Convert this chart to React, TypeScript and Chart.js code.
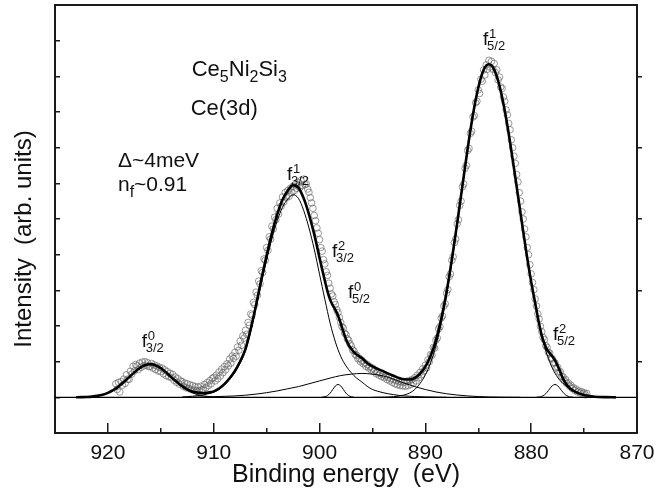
import React, { useEffect, useRef } from 'react';
import { Chart, registerables } from 'chart.js';

Chart.register(...registerables);

const FONT = '"Liberation Sans", Arial, Helvetica, sans-serif';

// ---------- axis ----------
const energyMin = 870;
const energyMax = 925;
const intensityMin = -1;
const intensityMax = 11;
const xMajorTicks = [870, 880, 890, 900, 910, 920];
const xMinorTicks = [875, 885, 895, 905, 915];

// ---------- experimental points (open circles) ----------
const expEnergyStart = 919.25;
const expEnergyStep = 0.125;
const expIntensity = [
  0.38, 0.22,
  0.42, 0.15, 0.44, 0.34, 0.51, 0.39, 0.63, 0.51, // 919
  0.5, 0.73, 0.65, 0.87, 0.74, 0.92, 0.88, 0.78, // 918
  0.96, 0.84, 0.99, 0.88, 1.0, 0.9, 0.97, 0.86, // 917
  0.87, 0.95, 0.82, 0.91, 0.78, 0.88, 0.74, 0.84, // 916
  0.72, 0.82, 0.66, 0.77, 0.61, 0.72, 0.58, 0.67, // 915
  0.55, 0.64, 0.48, 0.57, 0.42, 0.52, 0.37, 0.46, // 914
  0.44, 0.31, 0.4, 0.27, 0.38, 0.25, 0.35, 0.22, // 913
  0.33, 0.2, 0.3, 0.18, 0.29, 0.19, 0.31, 0.21, // 912
  0.22, 0.36, 0.27, 0.41, 0.33, 0.47, 0.38, 0.53, // 911
  0.56, 0.46, 0.62, 0.52, 0.71, 0.6, 0.79, 0.69, // 910
  0.86, 0.77, 0.94, 0.88, 1.07, 0.96, 1.16, 1.09, // 909
  1.26, 1.15, 1.41, 1.32, 1.58, 1.46, 1.72, 1.66, // 908
  1.88, 1.77, 2.1, 2.02, 2.34, 2.3, 2.66, 2.6, // 907
  2.95, 2.86, 3.26, 3.18, 3.55, 3.5, 3.88, 3.84, // 906
  4.2, 4.12, 4.5, 4.44, 4.8, 4.72, 5.05, 4.98, // 905
  5.3, 5.14, 5.45, 5.36, 5.62, 5.48, 5.74, 5.6, // 904
  5.8, 5.64, 5.86, 5.74, 5.92, 5.8, 5.98, 5.86, // 903
  6.02, 5.88, 6.08, 5.94, 6.12, 5.96, 5.98, 5.84, // 902
  5.75, 5.6, 5.45, 5.3, 5.1, 4.95, 4.75, 4.6, // 901
  4.42, 4.2, 4.1, 3.86, 3.74, 3.52, 3.42, 3.2, // 900
  3.06, 2.9, 2.84, 2.68, 2.6, 2.46, 2.38, 2.24, // 899
  2.1, 1.98, 1.94, 1.8, 1.76, 1.64, 1.6, 1.5, // 898
  1.44, 1.33, 1.3, 1.2, 1.18, 1.08, 1.1, 1.0, // 897
  1.04, 0.94, 0.97, 0.87, 0.92, 0.82, 0.86, 0.77, // 896
  0.82, 0.72, 0.76, 0.66, 0.71, 0.62, 0.67, 0.58, // 895
  0.64, 0.55, 0.6, 0.5, 0.56, 0.46, 0.52, 0.42, // 894
  0.5, 0.38, 0.47, 0.35, 0.44, 0.33, 0.43, 0.32, // 893
  0.42, 0.31, 0.45, 0.33, 0.47, 0.36, 0.5, 0.4, // 892
  0.55, 0.46, 0.62, 0.55, 0.7, 0.63, 0.8, 0.74, // 891
  0.9, 0.83, 1.05, 1.0, 1.2, 1.18, 1.4, 1.38, // 890
  1.6, 1.66, 1.92, 1.98, 2.22, 2.28, 2.56, 2.62, // 889
  2.92, 3.02, 3.38, 3.46, 3.84, 3.94, 4.34, 4.44, // 888
  4.86, 4.98, 5.38, 5.5, 5.9, 5.98, 6.42, 6.5, // 887
  6.92, 6.98, 7.4, 7.46, 7.86, 7.9, 8.26, 8.3, // 886
  8.62, 8.52, 8.92, 8.86, 9.18, 9.04, 9.32, 9.2, // 885
  9.45, 9.26, 9.42, 9.2, 9.36, 9.1, 9.18, 8.9, // 884
  8.98, 8.7, 8.66, 8.42, 8.3, 8.06, 7.92, 7.68, // 883
  7.5, 7.22, 7.0, 6.76, 6.56, 6.25, 6.04, 5.74, // 882
  5.5, 5.2, 5.0, 4.72, 4.5, 4.2, 4.0, 3.72, // 881
  3.46, 3.22, 3.02, 2.76, 2.56, 2.34, 2.2, 1.99, // 880
  1.84, 1.68, 1.62, 1.45, 1.4, 1.26, 1.24, 1.1, // 879
  1.08, 0.96, 0.97, 0.83, 0.84, 0.71, 0.72, 0.58, // 878
  0.58, 0.47, 0.5, 0.39, 0.41, 0.31, 0.34, 0.25, // 877
  0.27, 0.19, 0.23, 0.15, 0.18, 0.12, 0.16, 0.1, // 876
  0.13, 0.07, 0.11,
];

// ---------- total fit (thick line) ----------
const fitEnergy = [
  923, 922.5, 922, 921.5, 921, 920.5, 920, 919.5, 919, 918.5, 918, 917.5, 917, 916.5, 916, 915.5,
  915, 914.5, 914, 913.5, 913, 912.5, 912, 911.5, 911, 910.5, 910, 909.5, 909, 908.5, 908, 907.5,
  907, 906.5, 906, 905.5, 905, 904.5, 904, 903.5, 903, 902.5, 902, 901.5, 901, 900.5, 900, 899.75,
  899.5, 899.25, 899, 898.75, 898.5, 898.25, 898, 897.75, 897.5, 897.25, 897, 896.75, 896.5, 896,
  895.5, 895, 894.5, 894, 893.5, 893, 892.5, 892, 891.5, 891, 890.5, 890, 889.5, 889, 888.5, 888,
  887.5, 887, 886.5, 886, 885.5, 885, 884.5, 884, 883.5, 883, 882.5, 882, 881.5, 881, 880.5, 880,
  879.75, 879.5, 879.25, 879, 878.75, 878.5, 878.25, 878, 877.75, 877.5, 877.25, 877, 876.75, 876.5,
  876.25, 876, 875.5, 875, 874.5, 874, 873, 872,
];
const fitIntensity = [
  0.002, 0.005, 0.01, 0.021, 0.041, 0.074, 0.126, 0.2, 0.3, 0.43, 0.56, 0.7, 0.82, 0.9, 0.93, 0.9,
  0.82, 0.7, 0.56, 0.435, 0.313, 0.224, 0.161, 0.131, 0.121, 0.136, 0.168, 0.248, 0.37, 0.534, 0.74, 1.01,
  1.36, 1.925, 2.59, 3.31, 3.98, 4.605, 5.13, 5.54, 5.8, 5.95, 5.88, 5.58, 5.13, 4.57, 3.91, 3.58,
  3.27, 2.97, 2.74, 2.58, 2.45, 2.29, 2.08, 1.84, 1.63, 1.47, 1.36, 1.27, 1.2, 1.1,
  0.965, 0.87, 0.797, 0.734, 0.664, 0.603, 0.545, 0.505, 0.5, 0.542, 0.667, 0.862, 1.164, 1.606, 2.2, 2.95,
  3.86, 4.87, 5.93, 6.98, 7.93, 8.68, 9.18, 9.34, 9.19, 8.74, 8.04, 7.16, 6.17, 5.15, 4.15, 3.24,
  2.84, 2.45, 2.06, 1.73, 1.51, 1.34, 1.24, 1.145, 1.04, 0.885, 0.71, 0.53, 0.4, 0.3,
  0.23, 0.18, 0.11, 0.065, 0.035, 0.018, 0.005, 0,
];

// ---------- fit components (thin lines) ----------
const f32_0Energy = [923, 922.5, 922, 921.5, 921, 920.5, 920, 919.5, 919, 918.5, 918, 917.5, 917, 916.5, 916, 915.5, 915, 914.5, 914, 913.5, 913, 912.5, 912, 911.5, 911, 910.5, 910, 909.5, 909];
const f32_0Intensity = [0.002, 0.005, 0.01, 0.021, 0.041, 0.074, 0.126, 0.2, 0.3, 0.43, 0.56, 0.7, 0.82, 0.9, 0.93, 0.9, 0.82, 0.7, 0.56, 0.43, 0.3, 0.2, 0.126, 0.074, 0.041, 0.021, 0.01, 0.005, 0.002];

const f32_1Energy = [913, 912.5, 912, 911.5, 911, 910.5, 910, 909.5, 909, 908.5, 908, 907.5, 907, 906.5, 906, 905.5, 905, 904.5, 904, 903.5, 903, 902.5, 902, 901.5, 901, 900.5, 900, 899.5, 899, 898.5, 898, 897.5, 897, 896.5, 896, 895.5, 895, 894.5, 894, 893.5, 893, 892.5, 892, 891.5, 891, 890, 889, 888];
const f32_1Intensity = [0.01, 0.02, 0.03, 0.05, 0.07, 0.1, 0.14, 0.22, 0.34, 0.5, 0.7, 0.96, 1.3, 1.85, 2.5, 3.2, 3.85, 4.45, 4.95, 5.33, 5.56, 5.68, 5.58, 5.24, 4.75, 4.15, 3.45, 2.75, 2.08, 1.55, 1.15, 0.88, 0.69, 0.54, 0.43, 0.31, 0.22, 0.17, 0.13, 0.1, 0.075, 0.055, 0.04, 0.03, 0.022, 0.012, 0.006, 0.002];

const f32_2Energy = [899.75, 899.5, 899.25, 899, 898.75, 898.5, 898.25, 898, 897.75, 897.5, 897.25, 897, 896.75];
const f32_2Intensity = [0.004, 0.016, 0.049, 0.117, 0.22, 0.32, 0.36, 0.32, 0.22, 0.117, 0.049, 0.016, 0.004];

const f52_0Energy = [912, 911, 910, 909, 908, 907, 906, 905, 904, 903, 902, 901, 900, 899, 898, 897, 896, 895, 894, 893, 892, 891, 890, 889, 888, 887, 886, 885, 884, 883, 882, 881];
const f52_0Intensity = [0.005, 0.01, 0.018, 0.028, 0.04, 0.06, 0.09, 0.13, 0.18, 0.24, 0.3, 0.38, 0.46, 0.54, 0.61, 0.65, 0.67, 0.65, 0.6, 0.51, 0.4, 0.3, 0.22, 0.15, 0.1, 0.065, 0.04, 0.022, 0.011, 0.005, 0.002, 0];

const f52_1Energy = [895, 894, 893.5, 893, 892.5, 892, 891.5, 891, 890.5, 890, 889.5, 889, 888.5, 888, 887.5, 887, 886.5, 886, 885.5, 885, 884.5, 884, 883.5, 883, 882.5, 882, 881.5, 881, 880.5, 880, 879.5, 879, 878.5, 878, 877.5, 877, 876.5, 876, 875.5, 875, 874.5, 874, 873];
const f52_1Intensity = [0.001, 0.004, 0.009, 0.018, 0.035, 0.065, 0.12, 0.22, 0.39, 0.63, 0.97, 1.45, 2.07, 2.85, 3.77, 4.8, 5.88, 6.94, 7.9, 8.66, 9.16, 9.33, 9.18, 8.73, 8.04, 7.16, 6.17, 5.15, 4.15, 3.24, 2.45, 1.7, 1.2, 0.82, 0.56, 0.39, 0.27, 0.18, 0.11, 0.065, 0.035, 0.018, 0.005];

const f52_2Energy = [879.5, 879.25, 879, 878.75, 878.5, 878.25, 878, 877.75, 877.5, 877.25, 877, 876.75, 876.5, 876.25, 876];
const f52_2Intensity = [0.002, 0.009, 0.027, 0.069, 0.142, 0.238, 0.325, 0.36, 0.325, 0.238, 0.142, 0.069, 0.027, 0.009, 0.002];

const baselineEnergy = [925, 870];
const baselineIntensity = [0, 0];

const pts = (xs: number[], ys: number[]) => xs.map((x, i) => ({ x, y: ys[i] }));

function drawRuns(ctx: CanvasRenderingContext2D, x: number, y: number, runs: [string, string][], size: number) {
  let cx = x;
  for (const [t, kind] of runs) {
    const s = kind === 'n' ? size : Math.round(size * 0.74);
    ctx.font = `${s}px ${FONT}`;
    const dy = kind === 'sub' ? size * 0.28 : kind === 'sup' ? -size * 0.45 : 0;
    ctx.fillText(t, cx, y + dy);
    cx += ctx.measureText(t).width;
  }
}

function drawPeak(ctx: CanvasRenderingContext2D, x: number, y: number, sup: string, sub: string) {
  ctx.font = `19px ${FONT}`;
  ctx.fillText('f', x, y);
  ctx.font = `13px ${FONT}`;
  ctx.fillText(sup, x + 6, y - 7);
  ctx.fillText(sub, x + 4, y + 5);
}

const annotationPlugin = {
  id: 'xpsAnnotations',
  afterDatasetsDraw(chart: any) {
    const { ctx, scales } = chart;
    const X = (e: number) => scales.x.getPixelForValue(e);
    const Y = (v: number) => scales.y.getPixelForValue(v);
    ctx.save();
    ctx.fillStyle = '#111';
    ctx.textAlign = 'left';
    ctx.textBaseline = 'alphabetic';
    drawRuns(ctx, X(912.08), Y(9.01), [['Ce', 'n'], ['5', 'sub'], ['Ni', 'n'], ['2', 'sub'], ['Si', 'n'], ['3', 'sub']], 22);
    drawRuns(ctx, X(912.18), Y(7.91), [['Ce(3d)', 'n']], 22);
    drawRuns(ctx, X(919.05), Y(6.45), [['\u0394~4meV', 'n']], 21);
    drawRuns(ctx, X(919.05), Y(5.78), [['n', 'n'], ['f', 'sub'], ['~0.91', 'n']], 21);

    drawPeak(ctx, X(916.81), Y(1.42), '0', '3/2');
    drawPeak(ctx, X(903.08), Y(6.09), '1', '3/2');
    drawPeak(ctx, X(898.82), Y(3.93), '2', '3/2');
    drawPeak(ctx, X(897.31), Y(2.78), '0', '5/2');
    drawPeak(ctx, X(884.55), Y(9.88), '1', '5/2');
    drawPeak(ctx, X(877.94), Y(1.61), '2', '5/2');

    // vertical axis title
    ctx.save();
    ctx.translate(24, 239);
    ctx.rotate(-Math.PI / 2);
    ctx.textAlign = 'center';
    ctx.textBaseline = 'middle';
    ctx.font = `24px ${FONT}`;
    ctx.fillText('Intensity  (arb. units)', 0, 0);
    ctx.restore();
    ctx.restore();
  },
};

const lineDs = (label: string, xs: number[], ys: number[], width: number) => ({
  label,
  data: pts(xs, ys),
  showLine: true,
  borderColor: '#000',
  borderWidth: width,
  pointRadius: 0,
  pointHoverRadius: 0,
  fill: false,
  cubicInterpolationMode: 'monotone' as const,
});

export default function App() {
  const canvasRef = useRef<HTMLCanvasElement | null>(null);

  useEffect(() => {
    if (!canvasRef.current) return;
    const axisColor = '#1a1a1a';
    const chart = new Chart(canvasRef.current, {
      type: 'scatter',
      data: {
        datasets: [
          lineDs('Fit', fitEnergy, fitIntensity, 2.6),
          lineDs('f3/2 0', f32_0Energy, f32_0Intensity, 1),
          lineDs('f3/2 1', f32_1Energy, f32_1Intensity, 1),
          lineDs('f3/2 2', f32_2Energy, f32_2Intensity, 1),
          lineDs('f5/2 0', f52_0Energy, f52_0Intensity, 1),
          lineDs('f5/2 1', f52_1Energy, f52_1Intensity, 1),
          lineDs('f5/2 2', f52_2Energy, f52_2Intensity, 1),
          lineDs('Baseline', baselineEnergy, baselineIntensity, 1.2),
          {
            label: 'Experiment',
            data: expIntensity.map((y, i) => ({ x: expEnergyStart - i * expEnergyStep, y })),
            showLine: false,
            pointStyle: 'circle',
            pointRadius: 3.3,
            pointBorderWidth: 0.75,
            pointBorderColor: 'rgba(95,95,95,0.85)',
            pointBackgroundColor: 'rgba(255,255,255,0)',
          },
        ],
      },
      options: {
        responsive: false,
        maintainAspectRatio: false,
        animation: false,
        devicePixelRatio: 1,
        layout: { padding: 0 },
        plugins: { legend: { display: false }, tooltip: { enabled: false }, title: { display: false } },
        scales: {
          xMinor: {
            type: 'linear',
            position: 'bottom',
            weight: 0,
            min: energyMin,
            max: energyMax,
            reverse: true,
            afterBuildTicks: (s: any) => { s.ticks = xMinorTicks.map((value) => ({ value })); },
            ticks: { display: false, autoSkip: false },
            grid: { drawOnChartArea: false, drawTicks: true, tickLength: -5, color: axisColor, lineWidth: 1.5 },
            border: { display: false },
            afterFit: (s: any) => { s.height = 0; },
          },
          x: {
            type: 'linear',
            position: 'bottom',
            weight: 1,
            min: energyMin,
            max: energyMax,
            reverse: true,
            afterBuildTicks: (s: any) => { s.ticks = xMajorTicks.map((value) => ({ value })); },
            ticks: {
              autoSkip: false,
              maxRotation: 0,
              padding: 18,
              color: '#111',
              font: { family: FONT, size: 21 },
              callback: (v: any) => String(v),
            },
            grid: { drawOnChartArea: false, drawTicks: true, tickLength: -10, color: axisColor, lineWidth: 1.5 },
            border: { display: true, color: axisColor, width: 2 },
            title: {
              display: true,
              text: 'Binding energy  (eV)',
              color: '#111',
              font: { family: FONT, size: 25 },
              padding: { top: 0, bottom: 8 },
            },
            afterFit: (s: any) => { s.height = 65; },
          },
          xTop: {
            type: 'linear',
            position: 'top',
            min: energyMin,
            max: energyMax,
            reverse: true,
            ticks: { display: false },
            grid: { drawOnChartArea: false, drawTicks: false },
            border: { display: true, color: axisColor, width: 2 },
            afterFit: (s: any) => { s.height = 5; },
          },
          y: {
            type: 'linear',
            position: 'left',
            min: intensityMin,
            max: intensityMax,
            ticks: { stepSize: 1, display: false },
            grid: { drawOnChartArea: false, drawTicks: true, tickLength: -5, color: axisColor, lineWidth: 1.5 },
            border: { display: true, color: axisColor, width: 2 },
            afterFit: (s: any) => { s.width = 55; },
          },
          yRight: {
            type: 'linear',
            position: 'right',
            min: intensityMin,
            max: intensityMax,
            ticks: { stepSize: 2, display: false },
            grid: {
              drawOnChartArea: false,
              drawTicks: true,
              tickLength: 5,
              lineWidth: 1.5,
              tickColor: (c: any) => (c.tick && (c.tick.value === intensityMin || c.tick.value === intensityMax) ? 'rgba(0,0,0,0)' : axisColor),
            },
            border: { display: true, color: axisColor, width: 2 },
            afterFit: (s: any) => { s.width = 20; },
          },
        },
      },
      plugins: [annotationPlugin],
    });
    return () => chart.destroy();
  }, []);

  return (
    <div style={{ position: 'fixed', left: 0, top: 0, width: 657, height: 498, background: '#fff' }}>
      <canvas ref={canvasRef} width={657} height={498} style={{ display: 'block', width: 657, height: 498 }} />
    </div>
  );
}
